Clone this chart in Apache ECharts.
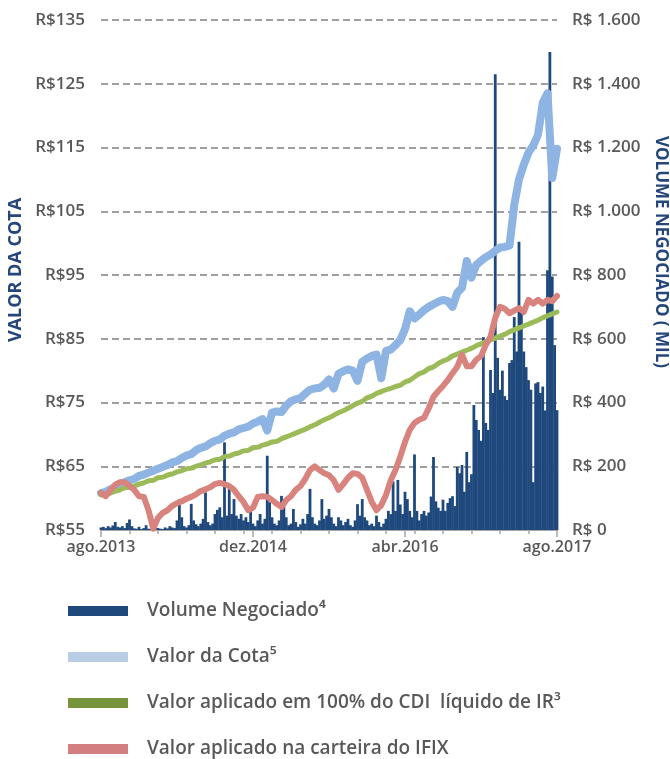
<!DOCTYPE html>
<html>
<head>
<meta charset="utf-8">
<script src="https://cdn.jsdelivr.net/npm/echarts@6/dist/echarts.min.js"></script>
<style>
html,body{margin:0;padding:0;background:#fff;}
#chart{width:670px;height:759px;}
</style>
</head>
<body>
<div id="chart"></div>
<script>
// X tick labels (axis runs in months from ago.2013 to ago.2017)
const tickLabels = ['ago.2013', 'dez.2014', 'abr.2016', 'ago.2017'];
const seriesNames = ['Volume Negociado\u2074', 'Valor da Cota\u2075', 'Valor aplicado em 100% do CDI  l\u00edquido de IR\u00b3', 'Valor aplicado na carteira do IFIX'];

// Volume negociado (R$ mil), one value per quarter month
const volume = [
  8, 10, 6, 12, 8, 14, 25, 10, 8, 12,
  6, 22, 33, 12, 5, 4, 10, 3, 6, 15,
  4, 3, 5, 15, 6, 4, 3, 8, 5, 12,
  8, 6, 30, 97, 40, 12, 8, 15, 82, 30,
  18, 12, 20, 35, 118, 25, 15, 20, 50, 63,
  71, 40, 275, 45, 139, 50, 97, 45, 35, 50,
  30, 40, 25, 66, 20, 12, 30, 50, 20, 35,
  233, 87, 40, 20, 15, 30, 107, 85, 40, 15,
  20, 66, 25, 10, 18, 35, 20, 50, 129, 40,
  20, 15, 30, 97, 35, 45, 66, 40, 20, 12,
  40, 30, 15, 25, 35, 15, 10, 30, 81, 45,
  97, 40, 30, 15, 20, 12, 45, 25, 10, 20,
  35, 60, 50, 152, 60, 157, 80, 50, 120, 97,
  60, 40, 237, 60, 30, 50, 60, 45, 55, 105,
  229, 90, 70, 60, 95, 60, 85, 100, 106, 75,
  198, 178, 204, 120, 245, 150, 175, 392, 345, 314,
  280, 605, 336, 314, 502, 430, 1430, 540, 440, 500,
  420, 408, 524, 533, 668, 560, 904, 681, 560, 511,
  470, 440, 150, 460, 464, 430, 450, 375, 815, 1500,
  795, 580, 376
];

// Valor da cota (R$), one value per half month
const valorCota = [
  60.8, 61.0, 61.4, 61.7, 62.2, 62.5, 62.8, 63.0, 63.5, 63.7,
  64.0, 64.3, 64.6, 64.9, 65.2, 65.6, 65.8, 66.3, 66.7, 66.9,
  67.5, 67.9, 68.1, 68.6, 69.0, 69.2, 69.8, 70.1, 70.3, 70.8,
  71.0, 71.2, 71.7, 72.0, 72.4, 70.6, 73.4, 73.6, 73.5, 74.5,
  75.2, 75.5, 75.7, 76.4, 77.0, 77.2, 77.3, 77.8, 78.6, 77.2,
  79.5, 79.9, 80.2, 80.0, 78.4, 81.4, 81.9, 82.3, 82.5, 78.8,
  83.1, 83.3, 84.0, 84.8, 86.5, 89.3, 88.2, 88.8, 89.5, 90.0,
  90.4, 90.8, 91.1, 90.9, 90.0, 92.2, 93.0, 97.2, 94.6, 96.6,
  97.2, 97.8, 98.2, 98.8, 99.3, 99.4, 99.6, 106.0, 110.0, 112.3,
  114.2, 115.3, 117.0, 122.0, 123.5, 110.2, 114.8
];

// Valor aplicado em 100% do CDI líquido de IR (R$), one value per half month
const cdi = [
  60.5, 60.6, 60.8, 61.1, 61.3, 61.6, 61.7, 61.9, 62.2, 62.4,
  62.7, 62.8, 63.2, 63.3, 63.6, 63.8, 64.1, 64.3, 64.6, 64.7,
  65.0, 65.2, 65.5, 65.7, 66.0, 66.1, 66.5, 66.6, 66.9, 67.1,
  67.4, 67.5, 67.9, 68.0, 68.3, 68.5, 68.8, 68.9, 69.3, 69.6,
  69.9, 70.2, 70.5, 70.8, 71.2, 71.5, 71.9, 72.3, 72.6, 73.0,
  73.4, 73.7, 74.1, 74.5, 74.9, 75.2, 75.7, 76.0, 76.4, 76.7,
  77.0, 77.2, 77.5, 77.7, 78.2, 78.5, 79.0, 79.5, 79.8, 80.3,
  80.6, 81.1, 81.5, 81.8, 82.3, 82.6, 82.9, 83.2, 83.5, 83.9,
  84.2, 84.5, 84.8, 85.1, 85.4, 85.7, 86.1, 86.4, 86.7, 87.0,
  87.3, 87.6, 87.9, 88.3, 88.6, 88.9, 89.2
];

// Valor aplicado na carteira do IFIX (R$), one value per half month
const ifix = [
  60.8, 60.3, 61.3, 62.1, 62.5, 62.5, 61.9, 61.3, 60.3, 60.2,
  58.1, 55.2, 56.9, 57.7, 58.1, 58.8, 59.2, 59.5, 59.9, 60.2,
  60.6, 61.1, 61.4, 61.7, 62.2, 62.4, 62.2, 61.9, 61.3, 60.3,
  59.4, 58.1, 58.5, 60.2, 60.3, 60.2, 59.7, 59.1, 58.6, 59.7,
  60.3, 61.3, 61.9, 63.0, 64.4, 65.0, 64.4, 63.9, 63.6, 62.8,
  61.3, 62.2, 63.2, 63.9, 63.8, 63.2, 61.3, 59.4, 58.1, 58.9,
  60.5, 62.8, 64.4, 66.5, 68.8, 70.7, 71.8, 72.3, 72.6, 74.1,
  75.9, 76.8, 77.6, 78.5, 79.6, 80.6, 82.5, 80.7, 80.7, 81.7,
  82.3, 84.0, 85.3, 88.3, 90.0, 89.7, 89.0, 89.4, 89.8, 89.2,
  91.1, 90.5, 91.1, 90.5, 91.1, 90.9, 91.7
];

const gray = '#595959';
const font = '"Open Sans", "Noto Sans", sans-serif';

function fmtVol(v) {
  if (v >= 1000) {
    const t = Math.floor(v / 1000);
    const r = String(v % 1000).padStart(3, '0');
    return 'R$ ' + t + '.' + r;
  }
  return 'R$ ' + v;
}

const chart = echarts.init(document.getElementById('chart'), null, {renderer: 'canvas'});
chart.setOption({
  animation: false,
  backgroundColor: '#ffffff',
  grid: {left: 101, right: 113, top: 20, bottom: 229},
  xAxis: [
    {
      type: 'value', min: 0, max: 48, interval: 3,
      axisLine: {show: true, lineStyle: {color: '#A6A6A6', width: 2}},
      axisTick: {show: true, length: 4, lineStyle: {color: '#A6A6A6', width: 1.5}},
      axisLabel: {show: false},
      splitLine: {show: false}
    },
    {
      type: 'value', min: 0, max: 48, interval: 16, position: 'bottom',
      axisLine: {show: false},
      axisTick: {show: true, length: 7, lineStyle: {color: '#A6A6A6', width: 1.5}},
      axisLabel: {
        formatter: function (v) { return tickLabels[Math.round(v / 16)] || ''; },
        color: gray, fontSize: 16, fontWeight: 600, fontFamily: font, margin: 9
      },
      splitLine: {show: false}
    }
  ],
  yAxis: [
    {
      type: 'value', min: 55, max: 135, interval: 10, position: 'left',
      axisLine: {show: false}, axisTick: {show: false},
      axisLabel: {formatter: function (v) { return 'R$' + v; }, color: gray, fontSize: 17, fontWeight: 600, fontFamily: font, margin: 16},
      splitLine: {show: true, lineStyle: {type: [7, 4], color: '#808080', width: 1.5}}
    },
    {
      type: 'value', min: 0, max: 1600, interval: 200, position: 'right',
      axisLine: {show: false}, axisTick: {show: false},
      axisLabel: {formatter: fmtVol, color: gray, fontSize: 17, fontWeight: 600, fontFamily: font, margin: 15},
      splitLine: {show: false}
    }
  ],
  legend: {
    orient: 'vertical', left: 68, top: 601, padding: 0,
    itemWidth: 60, itemHeight: 10, itemGap: 26,
    textStyle: {fontSize: 19, color: gray, fontFamily: font, fontWeight: 600, lineHeight: 20, padding: [0, 0, 0, 14]},
    data: [
      {name: seriesNames[0], icon: 'rect', itemStyle: {color: '#1F497D'}},
      {name: seriesNames[1], icon: 'rect', itemStyle: {color: '#B9CDE5'}},
      {name: seriesNames[2], icon: 'rect', itemStyle: {color: '#77933C'}},
      {name: seriesNames[3], icon: 'rect', itemStyle: {color: '#D47F7F'}}
    ]
  },
  graphic: [
    {type: 'text', x: 16, y: 270, rotation: Math.PI / 2,
      style: {text: 'VALOR DA COTA', fill: '#25467A', font: 'bold 18px ' + font, align: 'center', verticalAlign: 'middle'}},
    {type: 'text', x: 661, y: 252, rotation: -Math.PI / 2,
      style: {text: 'VOLUME NEGOCIADO ( MIL)', fill: '#25467A', font: 'bold 17px ' + font, align: 'center', verticalAlign: 'middle'}}
  ],
  series: [
    {
      name: seriesNames[0], type: 'bar', xAxisIndex: 0, yAxisIndex: 1,
      barWidth: 2.8, color: '#1F497D', itemStyle: {color: '#1F497D'},
      data: volume.map(function (v, i) { return [i / 4, v]; })
    },
    {
      name: seriesNames[1], type: 'line', xAxisIndex: 0, yAxisIndex: 0,
      symbol: 'none', color: '#8DB4E2',
      lineStyle: {color: '#8DB4E2', width: 8, join: 'round', cap: 'round'},
      data: valorCota.map(function (v, i) { return [i / 2, v]; })
    },
    {
      name: seriesNames[2], type: 'line', xAxisIndex: 0, yAxisIndex: 0,
      symbol: 'none', smooth: true, color: '#9BBB59',
      lineStyle: {color: '#9BBB59', width: 5, cap: 'round'},
      data: cdi.map(function (v, i) { return [i / 2, v]; })
    },
    {
      name: seriesNames[3], type: 'line', xAxisIndex: 0, yAxisIndex: 0,
      symbol: 'none', color: '#D9837F',
      lineStyle: {color: '#D9837F', width: 6, join: 'round', cap: 'round'},
      data: ifix.map(function (v, i) { return [i / 2, v]; })
    }
  ]
});
</script>
</body>
</html>
